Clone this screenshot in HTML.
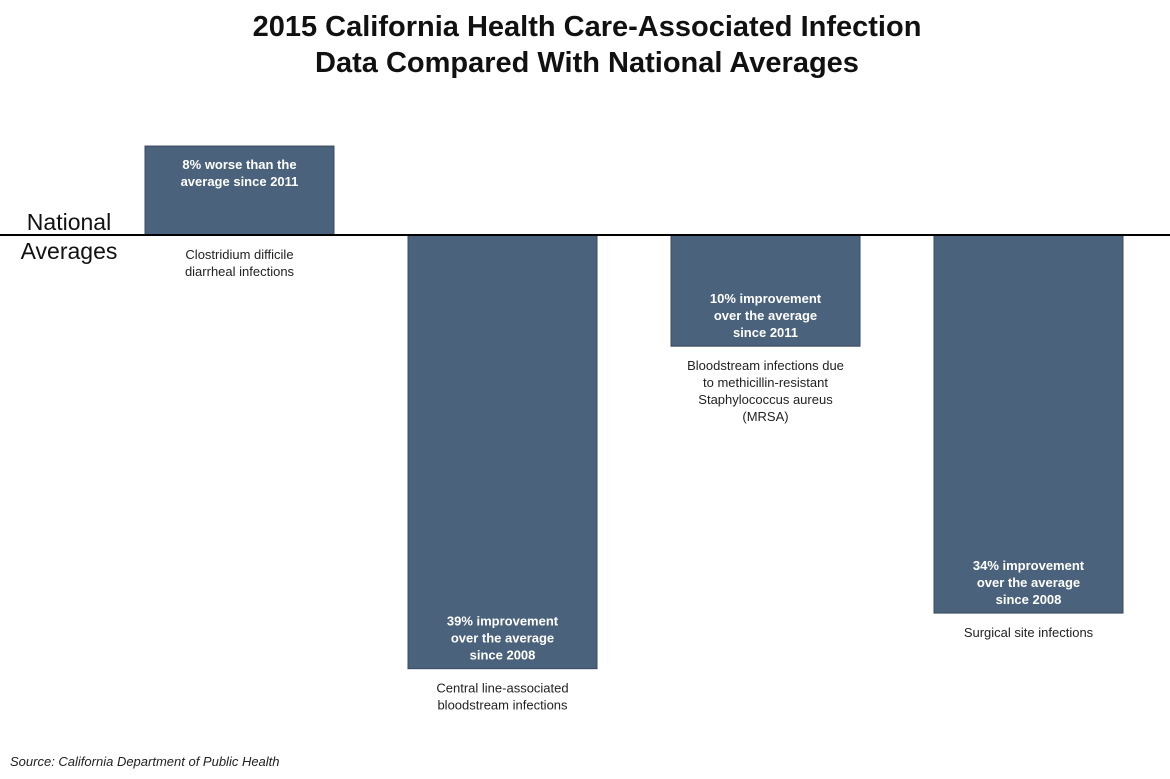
<!DOCTYPE html>
<html><head><meta charset="utf-8"><style>
body{margin:0;background:#fff;}
svg{display:block;font-family:"Liberation Sans",sans-serif;}
</style></head><body>
<svg id="chart" width="1170" height="779">
<text x="587" y="36" text-anchor="middle" font-size="29" font-weight="bold" fill="#111">2015 California Health Care-Associated Infection</text>
<text x="587" y="72" text-anchor="middle" font-size="29" font-weight="bold" fill="#111">Data Compared With National Averages</text>
<text x="69" y="230" text-anchor="middle" font-size="23" fill="#111">National</text>
<text x="69" y="259" text-anchor="middle" font-size="23" fill="#111">Averages</text>
<g id="bars"></g>
<line x1="0" x2="1170" y1="235" y2="235" stroke="#000" stroke-width="2"/>
<text x="10" y="766" font-size="13" font-style="italic" fill="#222">Source: California Department of Public Health</text>
</svg>
<script>
const categories = [["Clostridium difficile","diarrheal infections"],["Central line-associated","bloodstream infections"],["Bloodstream infections due","to methicillin-resistant","Staphylococcus aureus","(MRSA)"],["Surgical site infections"]];
const values = [8, -39, -10, -34];
const valueLabels = [["8% worse than the","average since 2011"],["39% improvement","over the average","since 2008"],["10% improvement","over the average","since 2011"],["34% improvement","over the average","since 2008"]];
const NS="http://www.w3.org/2000/svg";
const g=document.getElementById('bars');
const base=235, scale=11.12, x0=145, step=263, bw=189;
const yOf=v=>base - v*scale;
function txt(x,y,s,bold,fill){const t=document.createElementNS(NS,'text');t.setAttribute('x',x);t.setAttribute('y',y);t.setAttribute('text-anchor','middle');t.setAttribute('font-size','13');if(bold)t.setAttribute('font-weight','bold');t.setAttribute('fill',fill);t.textContent=s;g.appendChild(t);return t;}
values.forEach((v,i)=>{
  const x=x0+i*step, cx=x+bw/2;
  const top=Math.min(yOf(v),base), bot=Math.max(yOf(v),base);
  const r=document.createElementNS(NS,'rect');
  r.setAttribute('x',x);r.setAttribute('y',top);r.setAttribute('width',bw);r.setAttribute('height',bot-top);
  r.setAttribute('fill','#4a627c');r.setAttribute('stroke','#3a4a5c');r.setAttribute('stroke-width','1');
  
  
  g.appendChild(r);
  const lines=valueLabels[i];
  lines.forEach((s,j)=>{
    const y = v>0 ? top+23+j*17 : bot-43+(j-(lines.length-3))*17;
    const t=txt(cx,y,s,true,'#fff');
    
    
  });
  categories[i].forEach((s,j)=>{
    const t=txt(cx,bot+24+j*17,s,false,'#222');
    
    
  });
});
</script>
</body></html>
